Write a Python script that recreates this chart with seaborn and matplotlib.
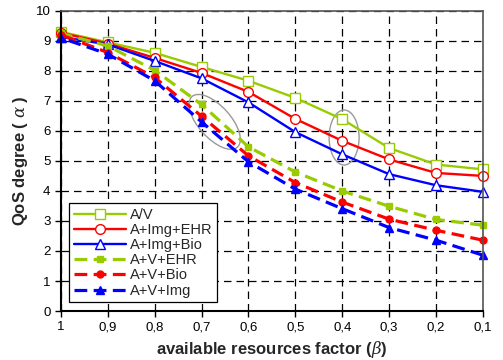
import pandas as pd
import matplotlib.pyplot as plt
import seaborn as sns
import numpy as np
from matplotlib.patches import Ellipse
from matplotlib.transforms import ScaledTranslation

# data
beta = [1.0, 0.9, 0.8, 0.7, 0.6, 0.5, 0.4, 0.3, 0.2, 0.1]
beta_labels = ['1', '0,9', '0,8', '0,7', '0,6', '0,5', '0,4', '0,3', '0,2', '0,1']
av = [9.3, 8.95, 8.6, 8.13, 7.67, 7.1, 6.39, 5.43, 4.88, 4.72]
a_img_ehr = [9.27, 8.91, 8.43, 7.93, 7.3, 6.4, 5.67, 5.05, 4.6, 4.5]
a_img_bio = [9.13, 8.88, 8.33, 7.75, 6.95, 5.96, 5.22, 4.56, 4.19, 3.97]
a_v_ehr = [9.25, 8.83, 8.02, 6.88, 5.47, 4.63, 4.0, 3.49, 3.05, 2.86]
a_v_bio = [9.2, 8.61, 7.78, 6.49, 5.17, 4.28, 3.63, 3.06, 2.69, 2.36]
a_v_img = [9.1, 8.56, 7.67, 6.3, 4.97, 4.06, 3.41, 2.78, 2.36, 1.86]

series = {
    'A/V': av,
    'A+Img+EHR': a_img_ehr,
    'A+Img+Bio': a_img_bio,
    'A+V+EHR': a_v_ehr,
    'A+V+Bio': a_v_bio,
    'A+V+Img': a_v_img,
}

green, red, blue = '#99CC00', '#FF0000', '#0000FF'
styles = {
    'A/V':       dict(color=green, marker='s', mfc='white', ms=7, lw=1.7, dashes=''),
    'A+Img+EHR': dict(color=red, marker='o', mfc='white', ms=7, lw=1.7, dashes=''),
    'A+Img+Bio': dict(color=blue, marker='^', mfc='white', ms=7.5, lw=1.7, dashes=''),
    'A+V+EHR':   dict(color=green, marker='s', mfc=green, ms=5, lw=2.3, dashes=(4, 2)),
    'A+V+Bio':   dict(color=red, marker='o', mfc=red, ms=5, lw=2.3, dashes=(4, 2)),
    'A+V+Img':   dict(color=blue, marker='^', mfc=blue, ms=6, lw=2.3, dashes=(4, 2)),
}

sns.set_style('white')
plt.rcParams['font.family'] = ['Liberation Sans', 'DejaVu Sans']
plt.rcParams['mathtext.fontset'] = 'dejavuserif'

fig = plt.figure(figsize=(5.03, 3.6), dpi=100)
ax = fig.add_axes([0.121, 0.136, 0.839, 0.834])

for name, vals in series.items():
    st = styles[name]
    df = pd.DataFrame({'beta': beta, 'q': vals})
    sns.lineplot(x='beta', y='q', data=df, ax=ax, color=st['color'],
                 marker=st['marker'], markersize=st['ms'],
                 markerfacecolor=st['mfc'], markeredgecolor=st['color'],
                 markeredgewidth=1.0, linewidth=st['lw'], label=name,
                 clip_on=False)
    if st['dashes']:
        ax.lines[-1].set_dashes(st['dashes'])

ax.set_xlim(1.0, 0.1)
ax.set_ylim(0, 10)
ax.set_xticks(beta)
ax.set_xticklabels(beta_labels)
ax.set_yticks(range(0, 11))

ax.grid(True, color='black', linestyle=(0, (6, 4)), linewidth=0.9)
ax.set_axisbelow(True)
for s in ['left', 'bottom']:
    ax.spines[s].set_color('black')
    ax.spines[s].set_linewidth(1.5)
for s in ['top', 'right']:
    ax.spines[s].set_color('#555555')
    ax.spines[s].set_linewidth(1.2)
ax.tick_params(axis='both', direction='out', length=4, width=1, colors='black',
               labelsize=9.5, bottom=True, left=True)

ax.set_xlabel(r'available resources factor ($\beta$)', fontsize=12, fontweight='bold')
ax.set_ylabel(r'QoS degree ( $\alpha$ )', fontsize=12, fontweight='bold')

# grey ellipses highlighting regions
def ring(cx, cy, w, h, ang):
    tr = fig.dpi_scale_trans + ScaledTranslation(cx, cy, ax.transData)
    ax.add_patch(Ellipse((0, 0), w / 100, h / 100, angle=ang, transform=tr,
                         fill=False, edgecolor='#999999', linewidth=1.0))

ring(0.672, 6.3, 68, 32, -48)
ring(0.396, 5.78, 30, 55, 0)

handles, labels = ax.get_legend_handles_labels()
leg = ax.legend(handles, labels, loc='lower left', bbox_to_anchor=(0.02, 0.03),
                fontsize=10.5, frameon=True, fancybox=False, edgecolor='black',
                framealpha=1, handlelength=3.6, labelspacing=0.08,
                borderpad=0.3, handletextpad=0.25, borderaxespad=0)
leg.get_frame().set_linewidth(0.9)

fig.savefig('out.png', dpi=100)
